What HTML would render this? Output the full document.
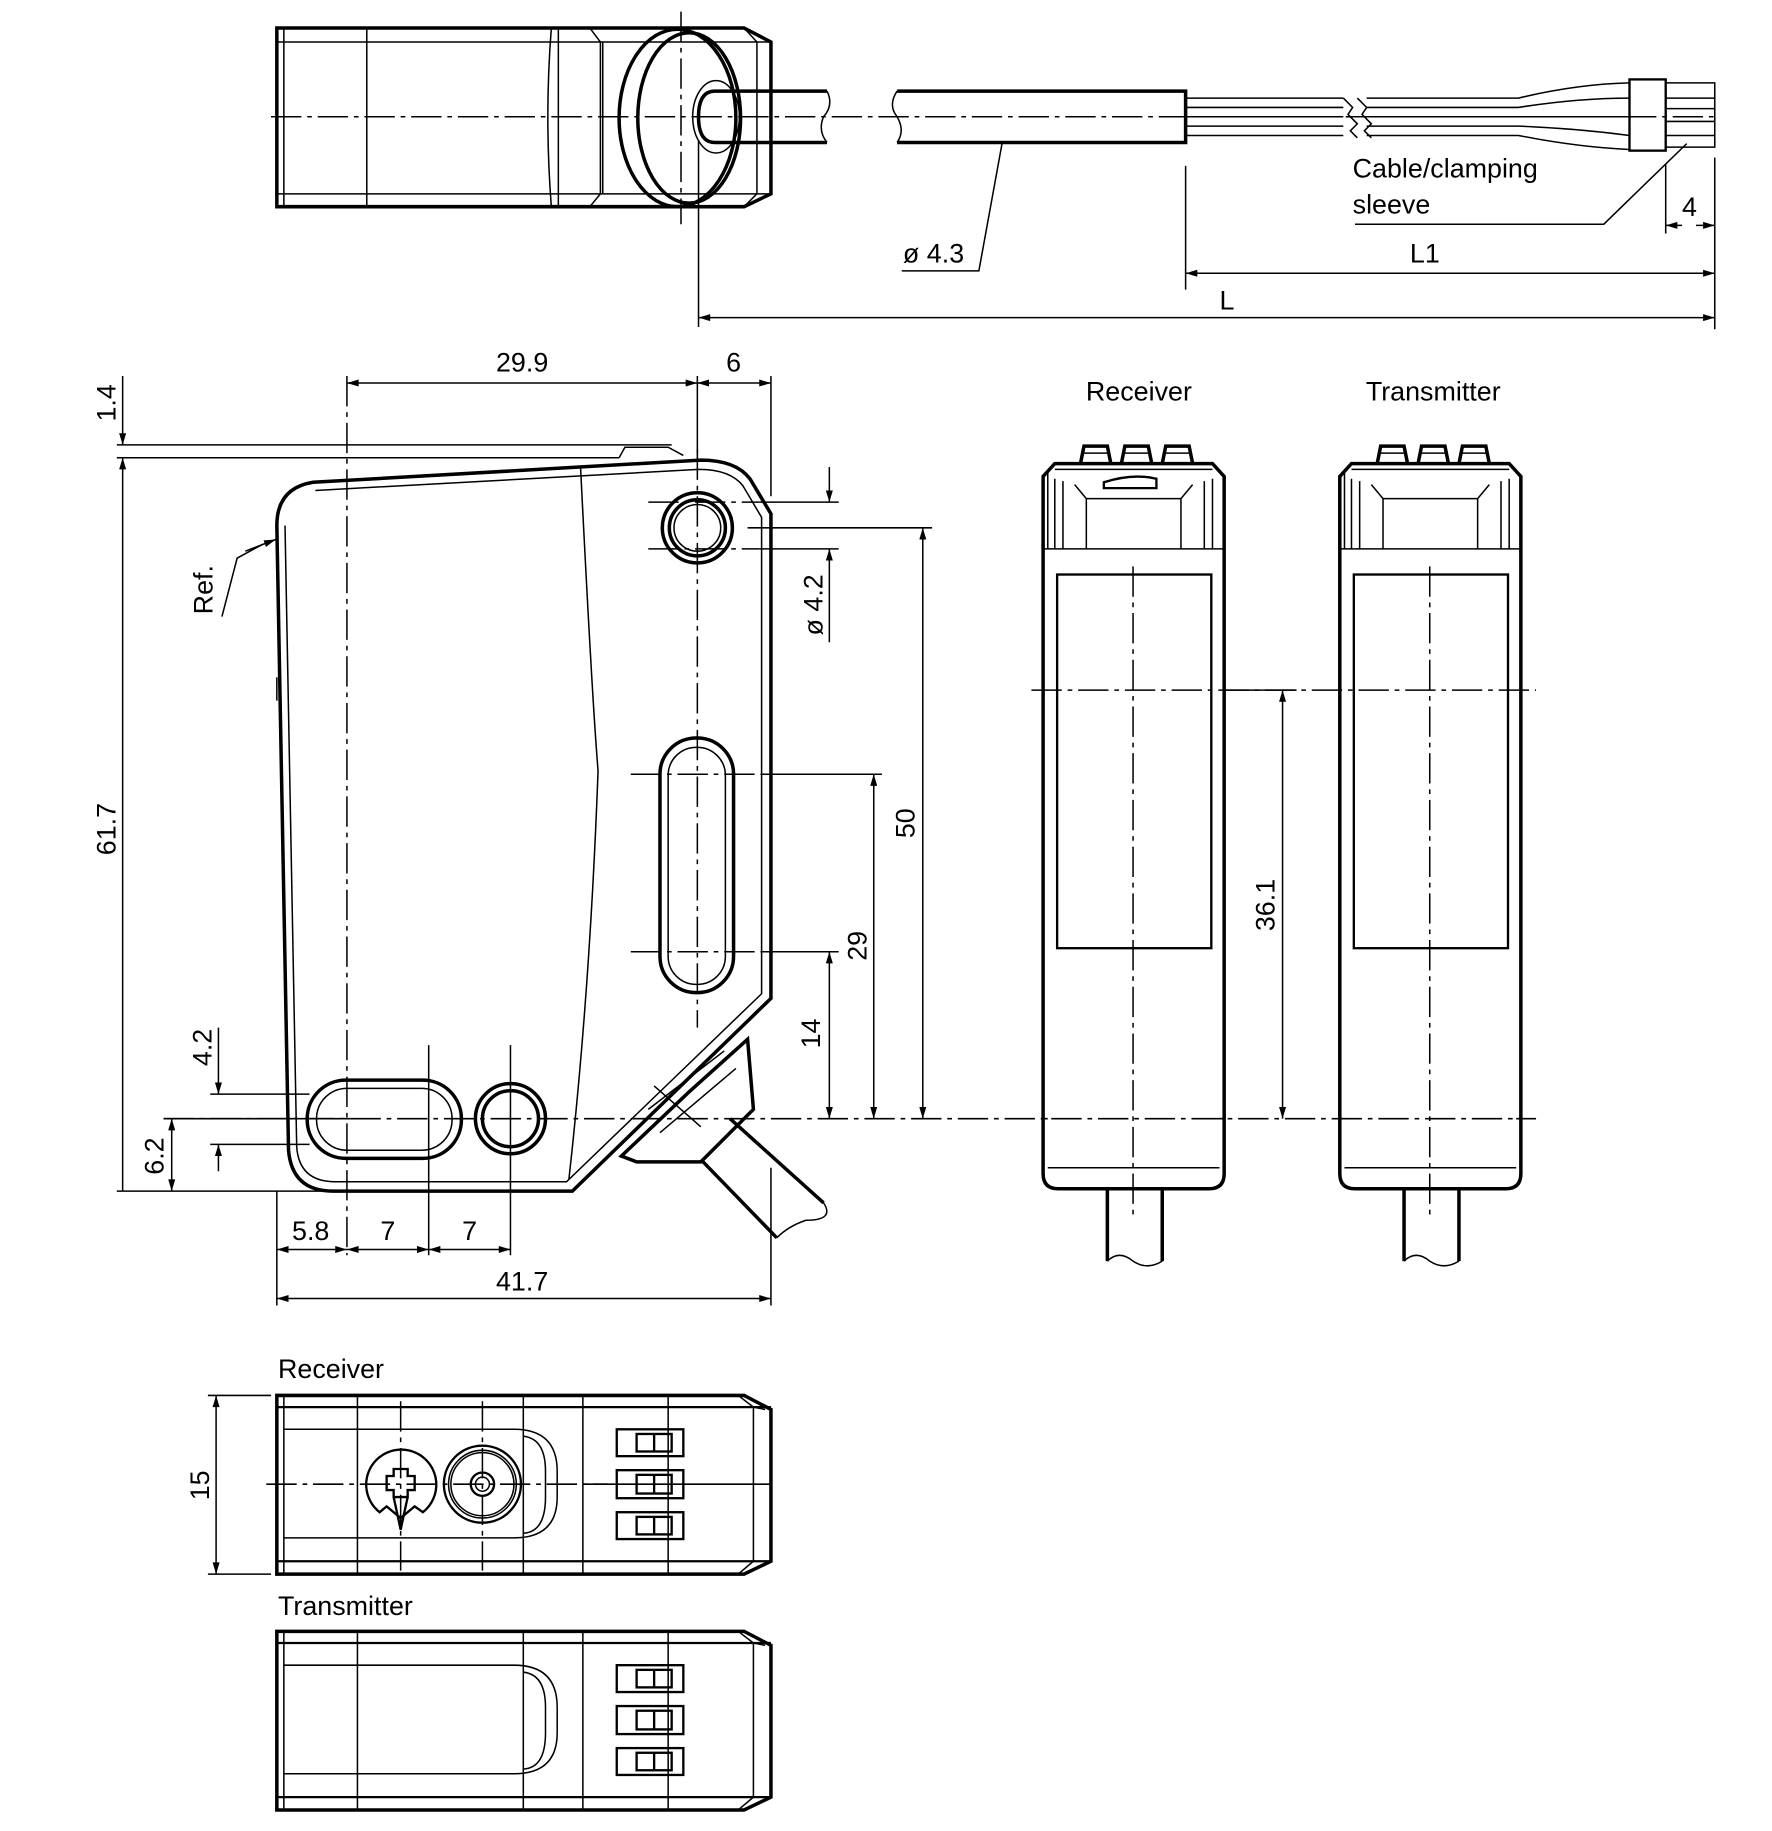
<!DOCTYPE html>
<html><head><meta charset="utf-8"><style>
html,body{margin:0;padding:0;background:#fff}
svg{display:block}
text{font-family:"Liberation Sans",Arial,sans-serif;font-size:23px;fill:#000}
.k{stroke:#000;fill:none;stroke-width:3}
.m{stroke:#000;fill:none;stroke-width:2}
.t{stroke:#000;fill:none;stroke-width:1.3}
.c{stroke:#000;fill:none;stroke-width:1.3;stroke-dasharray:26 5 4 5}
.d{stroke:#000;fill:none;stroke-width:1.3}
</style></head><body>
<svg width="1772" height="1831" viewBox="0 0 1517 1568" preserveAspectRatio="none" xmlns="http://www.w3.org/2000/svg">
<defs>
<marker id="a" viewBox="0 0 10 6" refX="10" refY="3" markerWidth="14" markerHeight="6" markerUnits="userSpaceOnUse" orient="auto-start-reverse"><path d="M0,0L10,3L0,6Z" fill="#000"/></marker>
</defs>

<!-- ===== TOP VIEW ===== -->
<path class="k" d="M237,24H637L660,36V166L637,177H237Z"/>
<path class="t" d="M237,36H660M237,166H660M243,24V177M314,24V177M472,24Q466,100 472,177M478,24V177M505,24L514,36V166L505,177M516,36V166M637,24L648,36V166L637,177"/>
<ellipse class="k" cx="580" cy="101" rx="50" ry="76"/>
<ellipse class="k" cx="590" cy="101" rx="44" ry="73"/>
<ellipse class="t" cx="613" cy="100" rx="20" ry="31"/>
<path class="k" fill="#fff" d="M708,78H612Q598,78 598,100Q598,122 612,122H708"/>
<path class="t" d="M708,78Q714,90 705,100Q700,112 708,122"/>
<line class="c" x1="232" y1="100" x2="1470" y2="100"/>
<line class="c" x1="583" y1="10" x2="583" y2="192"/>
<line class="t" x1="598" y1="120" x2="598" y2="280"/>
<!-- cable -->
<path class="k" d="M768,78H1015V122H768"/>
<path class="t" d="M768,78Q760,90 768,100Q775,112 768,122"/>
<path class="t" d="M1015,84H1150M1015,92H1150M1015,100H1150M1015,108H1150M1015,116H1150"/>
<path class="t" d="M1150,84l8,8l-4,6l8,8l-6,6l6,6M1162,84l8,8l-4,6l8,8l-6,6l6,6"/>
<path class="t" d="M1170,84H1300Q1350,72 1395,71M1170,92H1300Q1350,84 1395,84M1170,100H1395M1170,108H1300Q1350,110 1395,116M1170,116H1300Q1350,126 1395,128"/>
<rect class="m" x="1395" y="68" width="31" height="61"/>
<path class="t" d="M1426,71H1468V126H1426M1426,84H1468M1426,93H1468M1426,104H1468M1426,116H1468"/>
<path class="t" d="M1444,123L1373,192H1160"/>
<text x="1158" y="152">Cable/clamping</text>
<text x="1158" y="183">sleeve</text>
<path class="d" d="M1426,140V200M1468,135V282M1015,142V248"/>
<line class="d" x1="1440" y1="193" x2="1426" y2="193" marker-end="url(#a)"/>
<line class="d" x1="1452" y1="193" x2="1468" y2="193" marker-end="url(#a)"/>
<text x="1440" y="185">4</text>
<line class="d" x1="1015" y1="234" x2="1468" y2="234" marker-start="url(#a)" marker-end="url(#a)"/>
<text x="1207" y="225">L1</text>
<line class="d" x1="598" y1="272" x2="1468" y2="272" marker-start="url(#a)" marker-end="url(#a)"/>
<text x="1044" y="265">L</text>
<path class="t" d="M858,122L838,232H772"/>
<text x="773" y="225">ø 4.3</text>

<!-- ===== SIDE VIEW ===== -->
<path class="t" d="M530,392L535,383H572L585,390"/>
<path class="k" d="M268,413L600,394Q630,394 642,410L660,440V855L490,1020H285Q250,1020 247,985L237,450Q237,418 268,413Z"/>
<path class="t" d="M270,420L598,402Q625,402 636,416L652,443V851L485,1012H287Q256,1012 254,982L244,450"/>
<path class="t" d="M497,400Q507,600 512,660Q505,850 487,1010"/>
<path class="t" d="M237,580V600"/>
<!-- holes -->
<circle class="k" cx="597" cy="452" r="30"/>
<circle class="k" cx="597" cy="452" r="24"/>
<circle class="t" cx="597" cy="452" r="20"/>
<rect class="k" x="565" y="632" width="63" height="218" rx="31"/>
<rect class="t" x="572" y="640" width="49" height="203" rx="24"/>
<rect class="k" x="263" y="925" width="132" height="67" rx="33"/>
<rect class="t" x="271" y="932" width="116" height="53" rx="26"/>
<circle class="k" cx="437" cy="958" r="30"/>
<circle class="k" cx="437" cy="958" r="24"/>
<!-- cable housing -->
<path class="k" d="M532,990L590,935L640,890L645,950L600,995H545Z"/>
<path class="t" d="M555,950L620,900M565,970L630,915M560,930L600,965"/>
<path class="k" fill="#fff" d="M625,958L705,1030M600,993L665,1060"/>
<path class="t" d="M705,1030Q715,1045 690,1045Q675,1050 665,1060"/>
<!-- center lines -->
<line class="c" x1="597" y1="385" x2="597" y2="880"/>
<line class="c" x1="140" y1="958" x2="1315" y2="958"/>
<line class="c" x1="297" y1="322" x2="297" y2="1075"/>
<line class="c" x1="540" y1="663" x2="655" y2="663"/>
<line class="c" x1="540" y1="815" x2="655" y2="815"/>
<line class="c" x1="555" y1="430" x2="650" y2="430"/>
<line class="c" x1="555" y1="470" x2="650" y2="470"/>
<path class="t" d="M367,895V1075M437,895V1075"/>
<!-- dims -->
<path class="d" d="M100,381H575M100,392H530M100,1020H480M597,322V388M660,322V425M655,663H755M655,815H718M650,430H718M650,470H718M640,452H798M180,937H265M180,980H265M237,1020V1118M660,1000V1118M300,958H140"/>
<line class="d" x1="105" y1="322" x2="105" y2="381" marker-end="url(#a)"/>
<line class="d" x1="105" y1="392" x2="105" y2="1020" marker-start="url(#a)"/>
<text transform="translate(99,345) rotate(-90)" text-anchor="middle">1.4</text>
<text transform="translate(99,710) rotate(-90)" text-anchor="middle">61.7</text>
<line class="d" x1="297" y1="328" x2="597" y2="328" marker-start="url(#a)" marker-end="url(#a)"/>
<text x="447" y="318" text-anchor="middle">29.9</text>
<line class="d" x1="597" y1="328" x2="660" y2="328" marker-start="url(#a)" marker-end="url(#a)"/>
<text x="628" y="318" text-anchor="middle">6</text>
<line class="d" x1="710" y1="400" x2="710" y2="430" marker-end="url(#a)"/>
<line class="d" x1="710" y1="550" x2="710" y2="470" marker-end="url(#a)"/>
<text transform="translate(704,518) rotate(-90)" text-anchor="middle">ø 4.2</text>
<line class="d" x1="790" y1="452" x2="790" y2="958" marker-start="url(#a)" marker-end="url(#a)"/>
<text transform="translate(783,705) rotate(-90)" text-anchor="middle">50</text>
<line class="d" x1="748" y1="663" x2="748" y2="958" marker-start="url(#a)" marker-end="url(#a)"/>
<text transform="translate(742,810) rotate(-90)" text-anchor="middle">29</text>
<line class="d" x1="710" y1="815" x2="710" y2="958" marker-start="url(#a)" marker-end="url(#a)"/>
<text transform="translate(702,885) rotate(-90)" text-anchor="middle">14</text>
<line class="d" x1="187" y1="880" x2="187" y2="937" marker-end="url(#a)"/>
<line class="d" x1="187" y1="1003" x2="187" y2="980" marker-end="url(#a)"/>
<text transform="translate(181,897) rotate(-90)" text-anchor="middle">4.2</text>
<line class="d" x1="147" y1="958" x2="147" y2="1020" marker-start="url(#a)" marker-end="url(#a)"/>
<text transform="translate(140,990) rotate(-90)" text-anchor="middle">6.2</text>
<path class="d" d="M190,528L203,478L225,466"/>
<line class="d" x1="210" y1="472" x2="236" y2="462" marker-end="url(#a)"/>
<text transform="translate(182,505) rotate(-90)" text-anchor="middle">Ref.</text>
<line class="d" x1="237" y1="1070" x2="297" y2="1070" marker-start="url(#a)" marker-end="url(#a)"/>
<line class="d" x1="297" y1="1070" x2="367" y2="1070" marker-start="url(#a)" marker-end="url(#a)"/>
<line class="d" x1="367" y1="1070" x2="437" y2="1070" marker-start="url(#a)" marker-end="url(#a)"/>
<text x="266" y="1062" text-anchor="middle">5.8</text>
<text x="332" y="1062" text-anchor="middle">7</text>
<text x="402" y="1062" text-anchor="middle">7</text>
<line class="d" x1="237" y1="1112" x2="660" y2="1112" marker-start="url(#a)" marker-end="url(#a)"/>
<text x="447" y="1105" text-anchor="middle">41.7</text>

<!-- ===== FRONT VIEWS ===== -->
<g id="fv">
<path class="k" d="M925,397L928,382H948L951,397M960,397L963,382H983L986,397M995,397L998,382H1018L1021,397"/>
<path class="t" d="M928,388H948M963,388H983M998,388H1018"/>
<path class="k" d="M893,408L903,397H1038L1048,408V1005Q1048,1018 1035,1018H906Q893,1018 893,1005Z"/>
<path class="t" d="M893,470H1048M897,405V470M903,402H1038M903,410V470M910,412V470M920,415L930,427V470M1021,415L1011,427V470M1031,412V470M1038,410V470M930,427H1011"/>
<rect class="m" x="905" y="492" width="132" height="320"/>
<path class="t" d="M893,958H897M1044,958H1048M897,1000H1044"/>
<path class="k" fill="#fff" d="M948,1018V1080M995,1018V1080"/>
<path class="t" d="M948,1080Q958,1070 970,1080Q982,1088 995,1080"/>
<line class="c" x1="970" y1="485" x2="970" y2="1040"/>
</g>
<path class="m" d="M945,413Q970,405 990,410V418H945Z"/>
<use href="#fv" transform="translate(254,0)"/>
<text x="975" y="343" text-anchor="middle">Receiver</text>
<text x="1227" y="343" text-anchor="middle">Transmitter</text>
<line class="c" x1="883" y1="591" x2="1315" y2="591"/>
<path class="d" d="M1048,591H1110"/>
<line class="d" x1="1098" y1="591" x2="1098" y2="958" marker-start="url(#a)" marker-end="url(#a)"/>
<text transform="translate(1091,775) rotate(-90)" text-anchor="middle">36.1</text>

<!-- ===== BOTTOM VIEWS ===== -->
<g id="bv">
<path class="k" d="M237,1195H637L660,1207V1337L637,1348H237Z"/>
<path class="m" d="M237,1205H660M237,1337H660"/>
<path class="t" d="M243,1195V1348M306,1195V1348M448,1195V1348M499,1195V1348M572,1195V1348M632,1195L645,1205V1337L632,1348M645,1205L655,1207"/>
<path class="t" d="M243,1224H440Q477,1224 477,1260V1282Q477,1317 440,1317H243"/>
<path class="t" d="M448,1230Q467,1232 467,1260V1282Q467,1312 448,1313"/>
<g class="m">
<rect x="528" y="1224" width="57" height="23"/><rect x="545" y="1228" width="30" height="15"/><path d="M560,1228V1243"/>
<rect x="528" y="1259" width="57" height="24"/><rect x="545" y="1263" width="30" height="16"/><path d="M560,1263V1279"/>
<rect x="528" y="1295" width="57" height="23"/><rect x="545" y="1299" width="30" height="15"/><path d="M560,1299V1314"/>
</g>
</g>
<use href="#bv" transform="translate(0,202)"/>
<path class="t" d="M499,1271H660"/>
<line class="c" x1="228" y1="1271" x2="520" y2="1271"/>
<line class="c" x1="343" y1="1200" x2="343" y2="1345"/>
<line class="c" x1="413" y1="1200" x2="413" y2="1345"/>
<path class="m" d="M325,1295A30,30 0 1 1 362,1295L355,1290L343,1300L331,1290Z"/>
<path class="m" d="M337,1258H349V1264H355V1276H349V1282H337V1276H331V1264H337Z"/>
<path class="m" d="M337,1282L343,1310L349,1282"/>
<circle class="m" cx="413" cy="1271" r="33"/>
<circle class="t" cx="413" cy="1271" r="29"/>
<circle class="t" cx="413" cy="1271" r="27"/>
<circle class="m" cx="413" cy="1271" r="10"/>
<circle class="t" cx="413" cy="1271" r="6"/>
<text x="238" y="1180">Receiver</text>
<text x="238" y="1383">Transmitter</text>
<path class="d" d="M178,1195H232M178,1348H232"/>
<line class="d" x1="185" y1="1195" x2="185" y2="1348" marker-start="url(#a)" marker-end="url(#a)"/>
<text transform="translate(179,1272) rotate(-90)" text-anchor="middle">15</text>
</svg>
</body></html>
